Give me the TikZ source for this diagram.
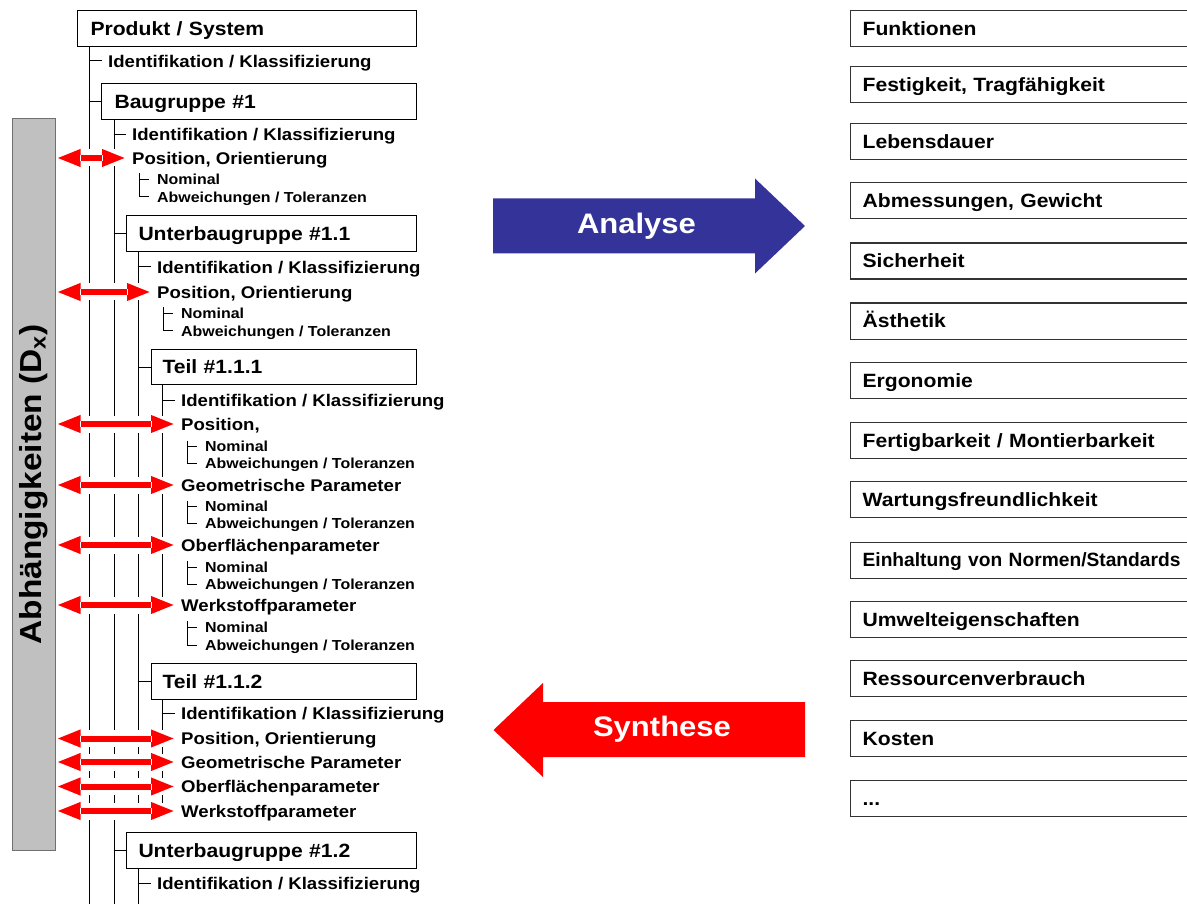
\documentclass[tikz,border=0pt]{standalone}
\usepackage{fontspec}
\setmainfont{Liberation Sans}[FakeStretch=1.1]
\newfontfamily\plainsans{Liberation Sans}
\usetikzlibrary{arrows.meta,calc}

\definecolor{analyseblue}{HTML}{333399}
\definecolor{barfill}{HTML}{C0C0C0}
\definecolor{barline}{HTML}{707070}

\newcommand\fsz[1]{\fontsize{#1}{#1}\selectfont}

\tikzset{
  tree/.style={draw=black, line width=1pt},
  lbox/.style={draw=black, line width=1pt, fill=white, anchor=north west,
    minimum height=36pt, inner ysep=0pt, align=left,
    text height=13.7pt, text depth=0pt, font=\bfseries\fsz{19.2}},
  rbox/.style={draw=black!80, line width=1.2pt, anchor=north west,
    minimum height=36pt, inner xsep=12pt, inner ysep=0pt, text width=330pt,
    align=left, text height=13.7pt, text depth=0pt, font=\bfseries\fsz{19.2}},
  item/.style={anchor=west, inner xsep=6pt, inner ysep=0pt,
    text height=12.1pt, text depth=0pt, font=\bfseries\fsz{16.9}},
  subitem/.style={anchor=west, inner xsep=8pt, inner ysep=0pt,
    text height=10.4pt, text depth=0pt, font=\bfseries\fsz{14.5}},
  dep/.style={red, line width=6pt,
    {Triangle[length=24pt,width=16pt]}-{Triangle[length=24pt,width=16pt]}},
  bigarrow/.style={font=\bfseries\fsz{28.2}, text=white, inner sep=0pt,
    text height=20.2pt, text depth=0pt},
}

% red double arrow from the dependency bar to a parameter
\newcommand\deparrow[1]{%
  \draw[white, line width=17pt] ($(bar.east |- #1.west)+(0.5,0)$) -- (#1.west);
  \draw[dep] ($(bar.east |- #1.west)+(0.5,0)$) -- (#1.west);
  \draw[white, line width=0.8pt] ($(bar.east |- #1.west)+(24.5,-3)$) -- ++(0,6);
  \draw[white, line width=0.8pt] ($(#1.west)+(-24,-3)$) -- ++(0,6);
}
% bracket joining "Nominal" and "Abweichungen / Toleranzen"
\newcommand\subpair[2]{%
  \draw[tree] ($(#1.west)+(-10,-6)$) |- (#2.west);
  \draw[tree] ($(#1.west)+(-10,0)$) -- (#1.west);
}

\begin{document}
\begin{tikzpicture}[x=1pt,y=-1pt]
\useasboundingbox (0,0) rectangle (1187,904);
\clip (0,0) rectangle (1187,904);
\coordinate (bottom) at (0,904);

% dependency bar
\node[draw=barline, fill=barfill, line width=1pt, minimum width=43pt,
  minimum height=731pt, inner sep=0pt] (bar) at (34,484.5) {};
\node[rotate=90, font=\bfseries\fsz{30.4}, inner sep=0pt] (bartext)
  at (bar.center) {Abhängigkeiten (D\textsubscript{x})};

% product structure boxes
\node[lbox, inner xsep=13pt, text width=313pt] (ps)   at (77,10)  {Produkt / System};
\node[lbox, inner xsep=13pt, text width=289pt] (bg)   at (101,83) {Baugruppe \#1};
\node[lbox, inner xsep=12pt, text width=266pt] (ubg1) at (126,215) {Unterbaugruppe \#1.1};
\node[lbox, inner xsep=11pt, text width=243pt, minimum height=35pt] (t1) at (151,349) {Teil \#1.1.1};
\node[lbox, inner xsep=11pt, text width=243pt] (t2)   at (151,663) {Teil \#1.1.2};
\node[lbox, inner xsep=12pt, text width=266pt] (ubg2) at (126,832) {Unterbaugruppe \#1.2};

\path (ps.south west)   ++(12.5,0) coordinate (ps-stem);
\path (bg.south west)   ++(13,0)   coordinate (bg-stem);
\path (ubg1.south west) ++(12.5,0) coordinate (ubg1-stem);
\path (t1.south west)   ++(11.5,0) coordinate (t1-stem);
\path (t2.south west)   ++(11.5,0) coordinate (t2-stem);
\path (ubg2.south west) ++(12.5,0) coordinate (ubg2-stem);

% attributes
\node[item] (idA) at (102,61) {Identifikation / Klassifizierung};

\node[item] (idB)  at (126,134.5) {Identifikation / Klassifizierung};
\node[item] (posB) at (126,158)   {Position, Orientierung};
\node[subitem] (nomB) at (149,179.5) {Nominal};
\node[subitem] (abwB) at (149,197)   {Abweichungen / Toleranzen};

\node[item] (idC)  at (151,267) {Identifikation / Klassifizierung};
\node[item] (posC) at (151,292) {Position, Orientierung};
\node[subitem] (nomC) at (173,313.5) {Nominal};
\node[subitem] (abwC) at (173,331)   {Abweichungen / Toleranzen};

\node[item] (idD)  at (175,400) {Identifikation / Klassifizierung};
\node[item] (posD) at (175,424) {Position,};
\node[subitem] (nomD1) at (197,446.5) {Nominal};
\node[subitem] (abwD1) at (197,463)   {Abweichungen / Toleranzen};
\node[item] (geoD) at (175,485) {Geometrische Parameter};
\node[subitem] (nomD2) at (197,506.5) {Nominal};
\node[subitem] (abwD2) at (197,523.5) {Abweichungen / Toleranzen};
\node[item] (obfD) at (175,545) {Oberflächenparameter};
\node[subitem] (nomD3) at (197,567) {Nominal};
\node[subitem] (abwD3) at (197,584) {Abweichungen / Toleranzen};
\node[item] (wkD) at (175,605) {Werkstoffparameter};
\node[subitem] (nomD4) at (197,627) {Nominal};
\node[subitem] (abwD4) at (197,645) {Abweichungen / Toleranzen};

\node[item] (idE)  at (175,713.5) {Identifikation / Klassifizierung};
\node[item] (posE) at (175,738.5) {Position, Orientierung};
\node[item] (geoE) at (175,762)   {Geometrische Parameter};
\node[item] (obfE) at (175,786.5) {Oberflächenparameter};
\node[item] (wkE)  at (175,811)   {Werkstoffparameter};

\node[item] (idF) at (151,883.5) {Identifikation / Klassifizierung};

% tree stems
\draw[tree] (ps-stem)   -- (ps-stem |- bottom);
\draw[tree] (bg-stem)   -- (bg-stem |- bottom);
\draw[tree] (ubg1-stem) -- (ubg1-stem |- wkE.west);
\draw[tree] (t1-stem)   -- (t1-stem |- wkD.west);
\draw[tree] (t2-stem)   -- (t2-stem |- wkE.west);
\draw[tree] (ubg2-stem) -- (ubg2-stem |- bottom);

% branches to boxes
\draw[tree] (bg.west)   -- (bg.west -| ps-stem);
\draw[tree] (ubg1.west) -- (ubg1.west -| bg-stem);
\draw[tree] (ubg2.west) -- (ubg2.west -| bg-stem);
\draw[tree] (t1.west)   -- (t1.west -| ubg1-stem);
\draw[tree] (t2.west)   -- (t2.west -| ubg1-stem);

% branches to identification entries
\draw[tree] (idA.west) -- (idA.west -| ps-stem);
\draw[tree] (idB.west) -- (idB.west -| bg-stem);
\draw[tree] (idC.west) -- (idC.west -| ubg1-stem);
\draw[tree] (idD.west) -- (idD.west -| t1-stem);
\draw[tree] (idE.west) -- (idE.west -| t2-stem);
\draw[tree] (idF.west) -- (idF.west -| ubg2-stem);

% nominal / tolerance brackets
\subpair{nomB}{abwB}
\subpair{nomC}{abwC}
\subpair{nomD1}{abwD1}
\subpair{nomD2}{abwD2}
\subpair{nomD3}{abwD3}
\subpair{nomD4}{abwD4}

% dependencies
\deparrow{posB}
\deparrow{posC}
\deparrow{posD}
\deparrow{geoD}
\deparrow{obfD}
\deparrow{wkD}
\deparrow{posE}
\deparrow{geoE}
\deparrow{obfE}
\deparrow{wkE}

% analysis / synthesis arrows
\fill[analyseblue] (493,198.5) -- (755,198.5) -- (755,178.5) -- (805,226)
  -- (755,273.5) -- (755,253.5) -- (493,253.5) -- cycle;
\node[bigarrow] (analyse) at (636.5,223.5) {Analyse};
\fill[red] (493.5,730) -- (543,683) -- (543,702) -- (805,702) -- (805,757)
  -- (543,757) -- (543,777) -- cycle;
\node[bigarrow] (synthese) at (662,726) {Synthese};

% product properties
\node[rbox] (f1)  at (850,10)    {Funktionen};
\node[rbox] (f2)  at (850,66)    {Festigkeit, Tragfähigkeit};
\node[rbox] (f3)  at (850,123.3) {Lebensdauer};
\node[rbox] (f4)  at (850,182.3) {Abmessungen, Gewicht};
\node[rbox] (f5)  at (850,242.5) {Sicherheit};
\node[rbox] (f6)  at (850,302.5) {Ästhetik};
\node[rbox] (f7)  at (850,361.7) {Ergonomie};
\node[rbox] (f8)  at (850,421.7) {Fertigbarkeit / Montierbarkeit};
\node[rbox] (f9)  at (850,480.7) {Wartungsfreundlichkeit};
\node[rbox] (f10) at (850,541.5) {\plainsans\bfseries Einhaltung von Normen/Standards};
\node[rbox] (f11) at (850,601)   {Umwelteigenschaften};
\node[rbox] (f12) at (850,660)   {Ressourcenverbrauch};
\node[rbox] (f13) at (850,720)   {Kosten};
\node[rbox] (f14) at (850,780)   {...};
\end{tikzpicture}
\end{document}
